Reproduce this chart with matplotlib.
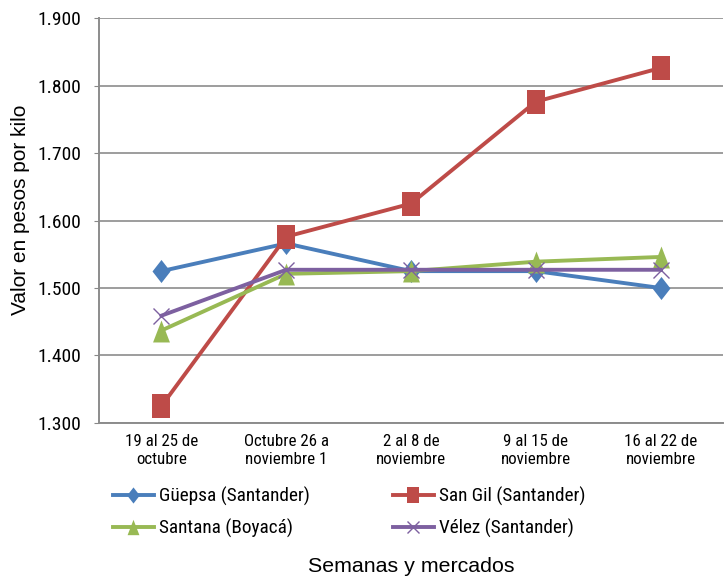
import matplotlib
matplotlib.use("Agg")
import matplotlib.pyplot as plt
from matplotlib.ticker import FuncFormatter
from matplotlib.path import Path

NARROW = ['Roboto Condensed', 'Liberation Sans', 'DejaVu Sans']
REG = ['Liberation Sans', 'DejaVu Sans']
plt.rcParams['font.family'] = NARROW

categories = ["19 al 25 de\noctubre", "Octubre 26 a\nnoviembre 1", "2 al 8 de\nnoviembre",
              "9 al 15 de\nnoviembre", "16 al 22 de\nnoviembre"]
guepsa = [1525, 1566, 1525, 1525, 1500]
san_gil = [1325, 1576, 1625, 1776, 1826]
santana = [1437, 1521, 1525, 1539, 1546]
velez = [1459, 1527, 1527, 1527, 1527]
series_names = ["Güepsa (Santander)", "San Gil (Santander)", "Santana (Boyacá)", "Vélez (Santander)"]
yticks = [1300, 1400, 1500, 1600, 1700, 1800, 1900]

diamond = Path([(0, 1), (0.78, 0), (0, -1), (-0.78, 0), (0, 1)],
               [Path.MOVETO, Path.LINETO, Path.LINETO, Path.LINETO, Path.CLOSEPOLY])
rect = Path([(-0.71, -1), (0.71, -1), (0.71, 1), (-0.71, 1), (-0.71, -1)],
            [Path.MOVETO, Path.LINETO, Path.LINETO, Path.LINETO, Path.CLOSEPOLY])
tri = Path([(-0.77, -1), (0.77, -1), (0, 1), (-0.77, -1)],
           [Path.MOVETO, Path.LINETO, Path.LINETO, Path.CLOSEPOLY])

fig = plt.figure(figsize=(7.28, 5.77), dpi=100)
ax = fig.add_axes([99/728, 1-423/577, (723-99)/728, (423-18)/577])

x = list(range(len(categories)))
lw = 2.8
l1, = ax.plot(x, guepsa, color='#4a7ebb', lw=lw, marker=diamond, ms=16.6, mew=0, label=series_names[0], zorder=3)
l2, = ax.plot(x, san_gil, color='#be4b48', lw=lw, marker=rect, ms=17.3, mew=0, label=series_names[1], zorder=3)
l3, = ax.plot(x, santana, color='#98b954', lw=lw, marker=tri, ms=15.8, mew=0, label=series_names[2], zorder=3)
l4, = ax.plot(x, velez, color='#7d60a0', lw=lw, marker='x', ms=12, mew=1.0, label=series_names[3], zorder=4)

ax.set_xlim(-0.5, len(categories) - 0.5)
ax.set_ylim(1300, 1900)
ax.set_yticks(yticks)
ax.yaxis.set_major_formatter(FuncFormatter(lambda v, p: f"{v/1000:.3f}"))
ax.set_xticks(x)
ax.set_xticklabels(categories, fontsize=12.2, linespacing=1.25)
ax.tick_params(axis='x', length=0, pad=8)
ax.tick_params(axis='y', labelsize=14, length=3.5, color='#888888', direction='out', pad=9)
ax.grid(axis='y', color='#8c8c8c', lw=1.2)
ax.set_axisbelow(True)
for s in ['top', 'right']:
    ax.spines[s].set_visible(False)
for s in ['left', 'bottom']:
    ax.spines[s].set_color('#8c8c8c')
    ax.spines[s].set_linewidth(1.4)

fig.text(20.5/728, 1-210/577, "Valor en pesos por kilo", rotation=90, ha='center', va='center',
         fontsize=15, family=REG)

common = dict(loc='upper left', frameon=False, prop={'family': NARROW, 'size': 13.9},
              handlelength=2.1, handletextpad=0.3, labelspacing=0.66, borderpad=0,
              borderaxespad=0, markerscale=0.7)
leg1 = fig.legend(handles=[l1, l3], labels=[series_names[0], series_names[2]],
                  bbox_to_anchor=(113/728, 1-487/577), **common)
leg2 = fig.legend(handles=[l2, l4], labels=[series_names[1], series_names[3]],
                  bbox_to_anchor=(393/728, 1-487/577), **common)

fig.text(411/728, 1-566/577, "Semanas y mercados", ha='center', va='center', fontsize=15.4, family=REG)

fig.savefig("out.png", dpi=100)
